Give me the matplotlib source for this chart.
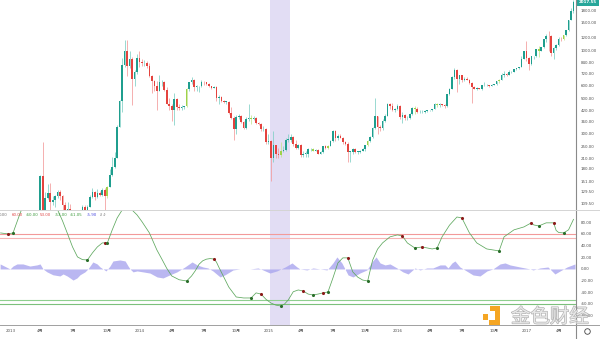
import matplotlib
matplotlib.use("Agg")
import matplotlib.pyplot as plt
import matplotlib.patheffects as pe
import matplotlib.transforms as mtransforms
from matplotlib.lines import Line2D
from matplotlib.patches import Rectangle
from matplotlib.ticker import NullLocator

plt.rcParams['font.family'] = ['DejaVu Sans', 'Noto Sans CJK SC']

# weekly BTCUSD candles, week index counted from Monday 2012-12-31
first_week = 13
week_open = [
    93, 162, 93, 119, 127, 112, 115, 122, 128, 122, 107, 100, 101, 88, 76, 95, 91, 96, 104, 100,
    104, 120, 128, 120, 127, 124, 133, 122, 138, 165, 185, 210, 330, 485, 810, 1000, 800, 880, 660, 730,
    900, 850, 830, 830, 805, 690, 640, 600, 560, 630, 635, 565, 460, 450, 420, 495, 440, 435, 440, 445,
    575, 630, 650, 590, 595, 595, 635, 630, 620, 595, 585, 590, 500, 510, 480, 475, 475, 405, 375, 320,
    380, 390, 355, 325, 370, 375, 370, 375, 350, 345, 320, 320,
    265, 270, 210, 255, 225, 220, 235, 237, 275, 275, 285, 260, 245, 255, 220, 225, 225, 240, 240, 235,
    237, 225, 230, 250, 245, 250, 270, 310, 280, 290, 280, 265, 260, 230, 230, 240, 230, 230, 235, 240,
    255, 270, 285, 325, 385, 330, 325, 360, 390, 460, 445, 420,
    430, 450, 380, 395, 375, 375, 400, 435, 430, 410, 410, 410, 415, 420, 420, 430, 460, 455, 460, 455,
    445, 530, 575, 680, 760, 660, 700, 650, 660, 655, 625, 590, 570, 580, 575, 605, 605, 605, 600, 610,
    615, 640, 655, 700, 710, 705, 730, 735, 765, 775, 790, 890,
    1000, 900, 820, 920, 920, 1020, 995, 1050, 1190, 1235, 1230, 960, 1040, 1085, 1190, 1180, 1245, 1340,
    1555, 1780,
]
week_high = [
    165, 266, 128, 145, 146, 121, 123, 133, 133, 124, 111, 112, 108, 93, 98, 99, 98, 107, 107, 106,
    123, 136, 131, 134, 130, 137, 136, 140, 180, 215, 230, 340, 490, 900, 1163, 1160, 1000, 910, 760, 950,
    1000, 880, 870, 860, 830, 700, 650, 640, 700, 650, 640, 590, 500, 460, 540, 500, 460, 455, 450, 580,
    630, 680, 660, 610, 600, 650, 640, 630, 625, 600, 600, 595, 525, 515, 490, 480, 480, 440, 390, 395,
    400, 395, 360, 380, 460, 395, 390, 380, 355, 350, 335, 325,
    300, 275, 310, 255, 245, 265, 250, 280, 300, 300, 290, 275, 260, 260, 235, 235, 245, 245, 245, 240,
    240, 232, 252, 255, 255, 275, 315, 315, 300, 300, 285, 270, 265, 235, 245, 245, 235, 238, 245, 255,
    275, 290, 330, 500, 390, 340, 370, 400, 470, 470, 465, 435,
    460, 455, 410, 400, 390, 405, 440, 445, 440, 420, 420, 420, 425, 425, 430, 465, 470, 465, 462, 460,
    530, 580, 690, 780, 770, 705, 705, 680, 680, 660, 630, 600, 590, 585, 610, 630, 612, 610, 615, 620,
    645, 660, 720, 740, 720, 750, 745, 770, 775, 790, 930, 1000,
    1150, 915, 930, 925, 1025, 1070, 1055, 1190, 1280, 1330, 1250, 1050, 1100, 1210, 1220, 1250, 1350, 1560,
    1840, 2080,
]
week_low = [
    92, 50, 67, 116, 79, 106, 104, 119, 115, 100, 96, 96, 84, 65, 74, 86, 87, 94, 93, 97,
    103, 118, 114, 118, 121, 122, 85, 118, 138, 163, 183, 210, 330, 410, 790, 690, 780, 455, 600, 715,
    790, 800, 800, 780, 680, 540, 560, 420, 560, 600, 560, 460, 420, 360, 340, 420, 420, 425, 430, 440,
    560, 620, 560, 560, 550, 590, 610, 610, 590, 570, 580, 480, 460, 475, 470, 460, 400, 370, 275, 300,
    370, 350, 320, 320, 360, 345, 365, 345, 340, 310, 310, 260,
    260, 152, 200, 210, 210, 215, 230, 235, 265, 265, 250, 240, 240, 215, 215, 215, 215, 232, 232, 232,
    225, 222, 228, 240, 240, 250, 265, 270, 275, 280, 260, 255, 200, 198, 225, 228, 225, 226, 233, 235,
    250, 265, 280, 320, 300, 310, 315, 355, 385, 430, 415, 410,
    425, 370, 350, 365, 365, 370, 395, 400, 405, 405, 405, 405, 410, 415, 415, 428, 440, 440, 445, 435,
    440, 525, 570, 665, 550, 620, 630, 645, 650, 620, 470, 570, 565, 570, 565, 600, 600, 590, 595, 605,
    610, 625, 650, 680, 690, 700, 725, 730, 755, 770, 790, 880,
    860, 750, 810, 880, 910, 910, 990, 1045, 1140, 1000, 930, 890, 1010, 1070, 1150, 1170, 1240, 1330,
    1550, 1720,
]
week_close = [
    162, 93, 119, 127, 112, 115, 122, 128, 122, 107, 100, 101, 88, 76, 95, 91, 96, 104, 100, 104,
    120, 128, 120, 127, 124, 133, 122, 138, 165, 185, 210, 330, 485, 810, 1000, 800, 880, 660, 730, 900,
    850, 830, 830, 805, 690, 640, 600, 560, 630, 635, 565, 460, 450, 420, 495, 440, 435, 440, 445, 575,
    630, 650, 590, 595, 595, 635, 630, 620, 595, 585, 590, 500, 510, 480, 475, 475, 405, 375, 320, 380,
    390, 355, 325, 370, 375, 370, 375, 350, 345, 320, 320, 265,
    270, 210, 255, 225, 220, 235, 237, 275, 275, 285, 260, 245, 255, 220, 225, 225, 240, 240, 235, 237,
    225, 230, 250, 245, 250, 270, 310, 280, 290, 280, 265, 260, 230, 230, 240, 230, 230, 235, 240, 255,
    270, 285, 325, 385, 330, 325, 360, 390, 460, 445, 420, 430,
    450, 380, 395, 375, 375, 400, 435, 430, 410, 410, 410, 415, 420, 420, 430, 460, 455, 460, 455, 445,
    530, 575, 680, 760, 660, 700, 650, 660, 655, 625, 590, 570, 580, 575, 605, 605, 605, 600, 610, 615,
    640, 655, 700, 710, 705, 730, 735, 765, 775, 790, 890, 1000,
    900, 820, 920, 920, 1020, 995, 1050, 1190, 1235, 1230, 960, 1040, 1085, 1190, 1180, 1245, 1340, 1555,
    1780, 2017.55,
]
# bars painted lime where the oscillator crosses upward
lime_weeks = [40, 72, 98, 110, 123, 129, 145, 164, 173, 198, 214, 224]

# WaveTrend line, with cross markers (1 = up cross, -1 = down cross)
wt_week = [-3, 0, 2, 5, 8, 12, 16, 20, 22, 24, 26, 28, 30, 32, 34, 36, 38, 39, 40, 42,
           44, 46, 48, 50, 52, 54, 57, 60, 62, 64, 66, 69, 72, 74, 75.5, 77, 78.5, 80, 81.5, 83,
           84, 85, 87, 89, 92, 95, 98, 100, 102, 104, 106, 108, 110, 111.5, 113, 115, 117, 119, 121, 123,
           125, 127, 129, 131, 133, 135, 137, 139, 141, 143, 145, 147, 149, 151, 154, 157, 159, 161, 164, 167,
           169, 171, 173, 175, 178, 181, 183, 186, 189, 193, 198, 200, 204, 208, 211, 212, 214, 217, 220, 221,
           222, 224, 226, 228]
wt_value = [61.7, 60, 61.7, 97, 125, 138, 128, 101, 82, 60, 37.7, 20.6, 16, 15.4, 27.4, 37.7, 44.6, 44.8, 44.2, 66.9,
            87.4, 101, 110, 101, 92.6, 81, 61.7, 32.6, 17, 1, -12, -18.5, -20.6, -12, -3, 8, 14, 16.8, 17.8, 17,
            12, 3, -14, -31, -48, -49.7, -49.7, -41, -43, -52, -58.3, -62, -63.4, -60, -53, -39, -36, -37.7, -43, -44.6,
            -43, -41, -39.4, -15.4, 10.3, 19, 19, -5, -14, -19, -20.6, 15, 34, 44.6, 55, 58.3, 56.6, 44.6, 36, 37.7,
            36, 34.3, 36, 55, 75, 89, 87.4, 62, 44.6, 34.3, 30.9, 55, 67, 72, 79, 75.4, 73.7, 79, 79, 66,
            62.5, 61.7, 67, 85]
wt_cross = [0, -1, 1, 0, 0, 0, 0, 0, 0, 0, 0, 0, 0, 1, 0, 0, 0, -1, 1, 0,
            0, 0, 0, 0, 0, 0, 0, 0, 0, 0, 0, 0, 1, 0, 0, 0, 0, 0, 0, -1,
            0, 0, 0, 0, 0, 0, 1, 0, -1, 0, 0, 0, 1, 0, 0, 0, 0, -1, 0, 1,
            0, -1, 1, 0, 0, 0, -1, 0, 0, 0, 1, 0, 0, 0, 0, 0, -1, 0, 1, -1,
            0, 0, 1, 0, 0, 0, -1, 0, 0, 0, 1, 0, 0, 0, -1, 0, 1, 0, -1, 0,
            0, 1, 0, 0]

# histogram of the two WaveTrend lines' difference
hist_week = [-3.2, 0.8, 2, 3.6, 6, 8.8, 11.7, 12.9, 14.1, 15.7, 18.1, 20.9, 22.2, 23.8, 25, 26.2, 27.8, 29, 31, 32.2,
             34.2, 35.9, 37.1, 38.3, 39.5, 41.1, 42.3, 45.1, 47.2, 48.4, 49.2, 50.4, 52, 54.4, 57.2, 60.1, 62.5, 65.3, 68.1, 71.3,
             74.2, 76.2, 78.6, 80.6, 82.6, 85.5, 87.5, 90.7, 93.5, 97.6, 100.8, 102.8, 105.6, 108.4, 111.7, 114.5, 116.5, 117.7, 120.5, 123,
             125.8, 128.6, 131, 132.6, 134.6, 137.1, 139.1, 141.9, 144.7, 146.7, 148.4, 150, 152, 154, 156.8, 159.2, 161.3, 164.1, 166.1, 168.9,
             171.3, 174.2, 176.2, 177.4, 179, 180.2, 182.2, 184.2, 187.5, 190.3, 193.1, 195.5, 198.4, 200.4, 202.4, 206.4, 210.5, 211.7, 214.5, 217.7,
             220.5, 222.6, 225.4, 228.6]
hist_value = [8.6, 0, 5, 8.6, 8.6, 5, 7, 8.6, 0, -5, -10, -12, -8.6, -12, -15.4, -19, -15.4, -10, -5, 0,
              12, 8.6, 3.4, 0, -3.4, 5, 13.7, 15.4, 13.7, 5, 0, -5, -3.4, -5, -7, -13.7, -15.4, -10, -5, 3.4,
              12, 7, 3.4, 1.7, -3.4, -13.7, -10, -1.7, 0, 0, 1.7, -1.7, -7, -3.4, 3.4, 10.3, 3.4, 0, -1.7, 1.7,
              0, -1.7, 10.3, 20.6, 10.3, -10.3, -13.7, -6.9, -1.7, 12, 20.6, 10.3, 6.9, 8.6, 1.7, -5, -8.6, 1.7, -1.7, 1.7,
              1.7, 6.9, 6.9, 1.7, 10.3, 13.7, 3.4, -1.7, -10.3, -12, -3.4, 0, 8.6, 10.3, 6.9, 3.4, 0, -1.7, 1.7, 3.4,
              -8.6, -3.4, 3.4, 8.6]

price_ticks = [1800, 1500, 1200, 1000, 840, 720, 600, 500, 420, 360, 300, 250, 210, 180, 151, 129.5, 109.5]
osc_ticks = [80, 60, 40, 20, 0, -20, -40, -60, -80]
time_ticks = [1, 13, 26, 40, 53, 66, 79, 92, 105, 118, 131, 144, 157, 170, 183, 196, 209, 222]
time_labels = ['2013', '4月', '7月', '10月', '2014', '4月', '7月', '10月', '2015',
               '4月', '7月', '10月', '2016', '4月', '7月', '10月', '2017', '4月']
legend_items = [('0.00', '#777777'), ('60.00', '#e04848'), ('-60.00', '#3c9a3c'), ('53.00', '#e04848'),
                ('-53.00', '#3c9a3c'), ('-61.05', '#3c9a3c'), ('-5.90', '#4848e0'), ('∂ ∂', '#888888')]
legend_x = [-1, 12, 26, 40, 55, 70, 87, 100]
band = (105.6, 113.7)

UP, DOWN, LIME = '#1f9e8e', '#e4433e', '#9fd24a'
UP_WICK, DOWN_WICK, LIME_WICK = '#7fcfc5', '#f29a9a', '#c2e48f'
TXT = '#505050'

W, H = 600, 339
RIGHT = 575.5
PX_WEEK = 2.48
x0 = 228 - 573.5 / PX_WEEK


def fx(px):
    return px / W


def fy(py):
    return 1 - py / H


fig = plt.figure(figsize=(6, 3.39), dpi=100)
ax_p = fig.add_axes([0, fy(210), fx(RIGHT), 210 / H])
ax_o = fig.add_axes([0, fy(325), fx(RIGHT), 115 / H])

for ax in (ax_p, ax_o):
    ax.set_xlim(x0, x0 + RIGHT / PX_WEEK)
    for s in ax.spines.values():
        s.set_visible(False)
    ax.axvspan(*band, color='#e2ddf4', lw=0, zorder=0)
    ax.yaxis.tick_right()
    ax.tick_params(axis='y', length=0, pad=3.6, labelsize=2.9, labelcolor=TXT)

# --- price panel ---
ax_p.set_yscale('log')
ax_p.set_ylim(99.3, 2081)
weeks = range(first_week, first_week + len(week_close))
for k, o, h, l, c in zip(weeks, week_open, week_high, week_low, week_close):
    if k in lime_weeks:
        body, wick = LIME, LIME_WICK
    elif c >= o:
        body, wick = UP, UP_WICK
    else:
        body, wick = DOWN, DOWN_WICK
    ax_p.vlines(k, l, h, color=wick, lw=0.55, zorder=2)
    lo, hi = min(o, c), max(o, c)
    if hi / lo < 1.008:
        hi = lo * 1.008
    ax_p.add_patch(Rectangle((k - 0.33, lo), 0.66, hi - lo, facecolor=body, edgecolor='none', zorder=3))

ax_p.yaxis.set_minor_locator(NullLocator())
ax_p.set_yticks(price_ticks)
ax_p.set_yticklabels([f'{v:.2f}' for v in price_ticks])
ax_p.tick_params(axis='x', bottom=False, labelbottom=False)

last_tf = mtransforms.blended_transform_factory(ax_p.transAxes, ax_p.transData)
ax_p.text(1.0 + 3.5 / RIGHT, week_close[-1], f'{week_close[-1]:.2f}', transform=last_tf,
          fontsize=2.9, color='white', fontweight='bold', va='center', ha='left', clip_on=False,
          bbox=dict(boxstyle='square,pad=0.55', fc='#26a69a', ec='none'))

# --- oscillator panel ---
ax_o.set_ylim(-96, 101)
ax_o.axhline(60, color='#f29a9a', lw=0.8, zorder=1)
ax_o.axhline(53, color='#f6b4b4', lw=0.8, zorder=1)
ax_o.axhline(-53, color='#8fcf8f', lw=0.8, zorder=1)
ax_o.axhline(-60, color='#7cc07c', lw=0.8, zorder=1)
ax_o.fill_between(hist_week, hist_value, 0, color='#a9a5ee', alpha=0.8, lw=0, zorder=2)
ax_o.plot(wt_week, wt_value, color='#5ea85e', lw=0.55, zorder=3)
for k, v, c in zip(wt_week, wt_value, wt_cross):
    if c:
        ax_o.scatter(k, v, s=5, color='#2a6e2a' if c > 0 else '#8c1a1a', lw=0, zorder=4)

ax_o.set_yticks(osc_ticks)
ax_o.set_yticklabels([f'{v:.2f}' for v in osc_ticks])
ax_o.set_xticks(time_ticks)
ax_o.set_xticklabels(time_labels)
ax_o.tick_params(axis='x', length=0, pad=2.6, labelsize=2.9, labelcolor=TXT)

for (txt, col), px in zip(legend_items, legend_x):
    fig.text(fx(px), fy(215), txt, fontsize=2.9, color=col, va='center', ha='left')

# frame lines
fig.add_artist(Line2D([fx(RIGHT), fx(RIGHT)], [0, 1], color='#8a8a8a', lw=0.8))
fig.add_artist(Line2D([0, 1], [fy(210), fy(210)], color='#d4d4d4', lw=0.7))
fig.add_artist(Line2D([0, 1], [fy(325), fy(325)], color='#a0a0a0', lw=0.7))
fig.add_artist(Line2D([fx(587)], [fy(331)], marker='o', mfc='none', mec='#444444', ms=4, mew=0.6))

# watermark
ORANGE = '#f5a623'
for (x, y, w, h) in [(483, 314, 5, 6), (490, 306, 10, 5), (495, 306, 5, 19), (489, 320, 11, 5)]:
    fig.add_artist(Rectangle((fx(x), fy(y + h)), w / W, h / H, transform=fig.transFigure,
                             facecolor=ORANGE, edgecolor='none'))
fig.text(fx(550), fy(317), '金色财经', fontsize=14, color='#e8e8e8', ha='center', va='center',
         family=['Noto Sans CJK SC'],
         path_effects=[pe.Stroke(linewidth=0.9, foreground='#b0b0b0'), pe.Normal()])

fig.savefig('out.png', dpi=100, facecolor='white')
